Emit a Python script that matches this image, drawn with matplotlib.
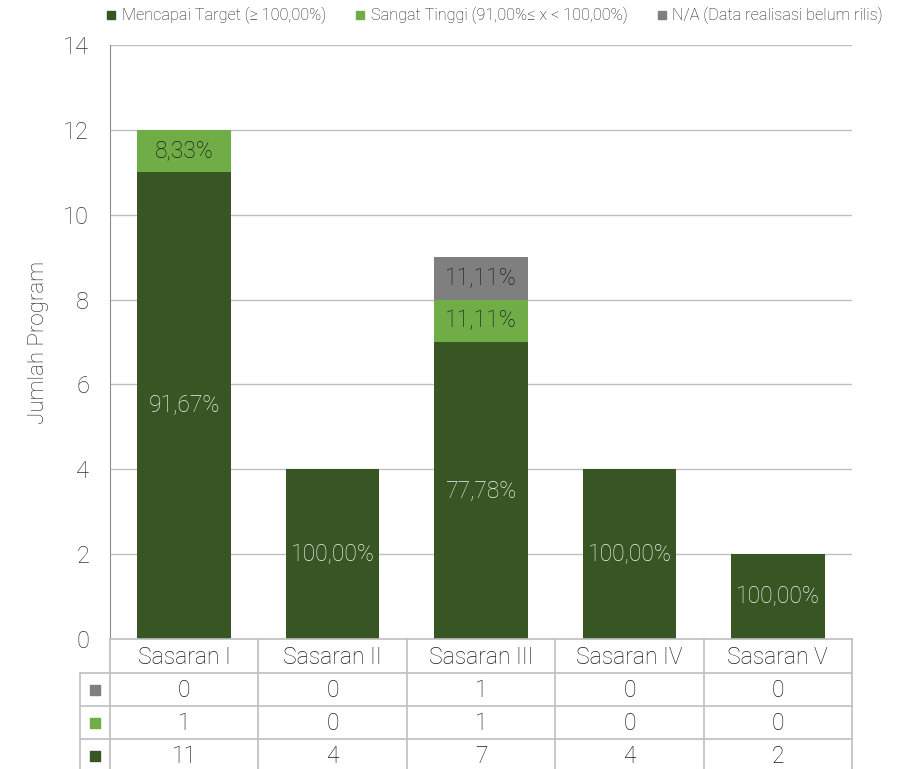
import numpy as np
import matplotlib.pyplot as plt
from matplotlib.lines import Line2D

plt.rcParams['font.family'] = ['Roboto', 'DejaVu Sans']

categories = ['Sasaran I', 'Sasaran II', 'Sasaran III', 'Sasaran IV', 'Sasaran V']
mencapai = [11, 4, 7, 4, 2]
sangat_tinggi = [1, 0, 1, 0, 0]
na = [0, 0, 1, 0, 0]
series_names = ['Mencapai Target (≥ 100,00%)', 'Sangat Tinggi (91,00%≤ x < 100,00%)',
                'N/A (Data realisasi belum rilis)']
colors = ['#375623', '#70ad47', '#7f7f7f']
label_colors = ['#f2f2f2', '#1a1a1a', '#1a1a1a']

W, H = 897, 769
fig = plt.figure(figsize=(W / 100, H / 100), dpi=100)
x0, x1, ytop, ybot = 110, 852, 45, 639
ax = fig.add_axes([x0 / W, 1 - ybot / H, (x1 - x0) / W, (ybot - ytop) / H])

x = np.arange(len(categories))
width = 0.63
series = [mencapai, sangat_tinggi, na]
totals = np.sum(series, axis=0)
bottom = np.zeros(len(categories))
for vals, c, lc in zip(series, colors, label_colors):
    vals = np.array(vals, dtype=float)
    ax.bar(x, vals, width, bottom=bottom, color=c, zorder=2)
    for i, v in enumerate(vals):
        if v > 0:
            pct = f'{v / totals[i] * 100:.2f}%'.replace('.', ',')
            ax.text(x[i], bottom[i] + v / 2, pct, ha='center', va='center',
                    fontsize=16.5, color=lc, fontweight='light', zorder=3)
    bottom += vals

ax.set_xlim(-0.5, len(categories) - 0.5)
ax.set_ylim(0, 14)
ax.set_yticks(range(0, 15, 2))
ax.yaxis.grid(True, color='#bfbfbf', linewidth=1, zorder=0)
ax.set_xticks([])
for s in ['top', 'right', 'bottom']:
    ax.spines[s].set_visible(False)
ax.spines['left'].set_color('#8c8c8c')
ax.tick_params(axis='y', length=0, labelsize=17, labelcolor='#333333', pad=15)
for t in ax.get_yticklabels():
    t.set_fontweight('light')
ax.set_ylabel('Jumlah Program', fontsize=16, color='#262626', fontweight='light', labelpad=10)

# data table under the axis
tx0 = 80
cat_w = (x1 - x0) / len(categories)
tax = fig.add_axes([tx0 / W, 0, (x1 - tx0) / W, (H - ybot) / H])
tax.set_xlim(-0.5 - (x0 - tx0) / cat_w, len(categories) - 0.5)
tax.set_ylim(H - ybot, 0)
tax.axis('off')
row_h = [34, 33, 33, 33]
edges = np.concatenate([[0], np.cumsum(row_h)])
lc = '#bfbfbf'
left = tax.get_xlim()[0]
right = len(categories) - 0.5
tax.plot([-0.5, right], [0, 0], color=lc, lw=1.2, clip_on=False)
for e in edges[1:]:
    tax.plot([left, right], [e, e], color=lc, lw=1.2, clip_on=False)
for xv in np.arange(-0.5, len(categories)):
    tax.plot([xv, xv], [0, edges[-1]], color=lc, lw=1.2, clip_on=False)
tax.plot([left, left], [edges[1], edges[-1]], color=lc, lw=1.2, clip_on=False)

for i, cat in enumerate(categories):
    tax.text(i, row_h[0] / 2 + 1, cat, ha='center', va='center', fontsize=16.5,
             color='#1a1a1a', fontweight='light')
table_rows = [na, sangat_tinggi, mencapai]
row_colors = [colors[2], colors[1], colors[0]]
for r, (vals, c) in enumerate(zip(table_rows, row_colors)):
    yc = (edges[r + 1] + edges[r + 2]) / 2
    tax.scatter([(left + -0.5) / 2], [yc], marker='s', s=55, color=c, clip_on=False)
    for i, v in enumerate(vals):
        tax.text(i, yc + 1, str(v), ha='center', va='center', fontsize=16.5,
                 color='#1a1a1a', fontweight='light')

handles = [Line2D([], [], marker='s', linestyle='', color=c, markersize=6) for c in colors]
fig.legend(handles, series_names, loc='upper left', bbox_to_anchor=(99 / W, 0.999), ncol=3,
           frameon=False, handlelength=0.7, handletextpad=0.3, columnspacing=1.75,
           borderaxespad=0, labelcolor='#1a1a1a', prop={'weight': 'light', 'size': 11.7})

fig.savefig('out.png', dpi=100)
